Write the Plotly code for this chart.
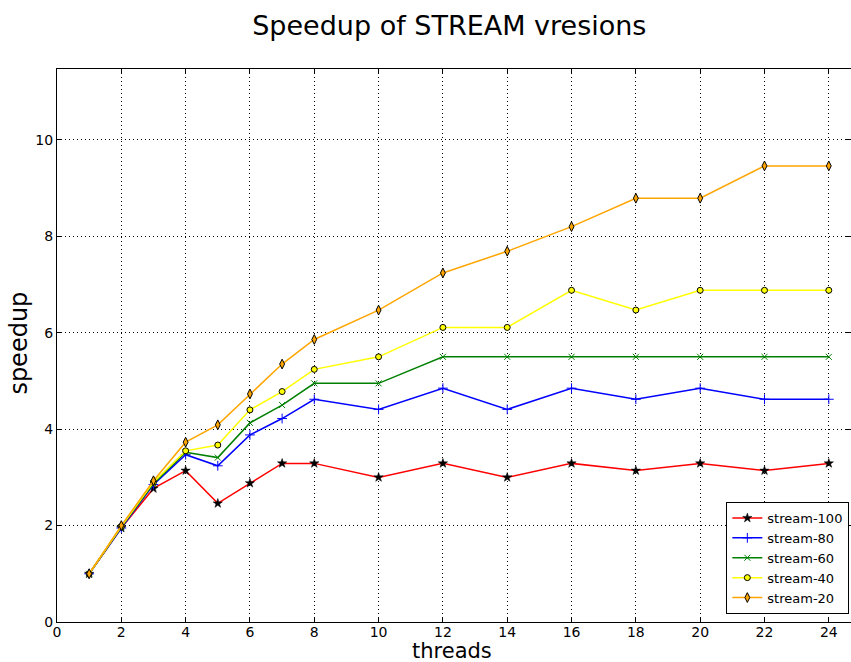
import plotly.graph_objects as go

threads = [1, 2, 3, 4, 5, 6, 7, 8, 10, 12, 14, 16, 18, 20, 22, 24]
stream_100 = [1.0, 1.95, 2.77, 3.14, 2.46, 2.88, 3.29, 3.29, 3.0, 3.29, 3.0, 3.29, 3.14, 3.29, 3.14, 3.29]
stream_80 = [1.0, 1.95, 2.85, 3.47, 3.24, 3.88, 4.22, 4.62, 4.41, 4.85, 4.41, 4.85, 4.62, 4.85, 4.62, 4.62]
stream_60 = [1.0, 1.97, 2.87, 3.52, 3.41, 4.13, 4.5, 4.95, 4.95, 5.5, 5.5, 5.5, 5.5, 5.5, 5.5, 5.5]
stream_40 = [1.0, 1.98, 2.9, 3.55, 3.67, 4.4, 4.78, 5.24, 5.5, 6.11, 6.11, 6.88, 6.47, 6.88, 6.88, 6.88]
stream_20 = [1.0, 2.0, 2.93, 3.73, 4.09, 4.73, 5.35, 5.86, 6.47, 7.24, 7.69, 8.2, 8.79, 8.79, 9.46, 9.46]
x_ticks = [0, 2, 4, 6, 8, 10, 12, 14, 16, 18, 20, 22, 24]
y_ticks = [0, 2, 4, 6, 8, 10]

fig = go.Figure()
series = [
    ("stream-100", stream_100, "red", dict(symbol="star", size=7, color="black", line=dict(color="black", width=0.5))),
    ("stream-80", stream_80, "blue", dict(symbol="cross-thin", size=7, color="blue", line=dict(color="blue", width=1))),
    ("stream-60", stream_60, "green", dict(symbol="x-thin", size=6, color="green", line=dict(color="green", width=1))),
    ("stream-40", stream_40, "yellow", dict(symbol="circle", size=6, color="yellow", line=dict(color="black", width=1))),
    ("stream-20", stream_20, "orange", dict(symbol="diamond-tall", size=7, color="orange", line=dict(color="black", width=1))),
]
for name, ys, col, mk in series:
    fig.add_trace(go.Scatter(x=threads, y=ys, name=name, mode="lines+markers",
                             line=dict(color=col, width=1.5), marker=mk))

axis_common = dict(showline=True, linecolor="black", linewidth=1.2, mirror="ticks",
                   ticks="inside", ticklen=5, tickcolor="black",
                   showgrid=True, gridcolor="black", griddash="1px,3px", gridwidth=1,
                   zeroline=False, automargin=False,
                   tickfont=dict(family="DejaVu Sans", size=14, color="black"))

fig.update_layout(
    width=851, height=662,
    margin=dict(l=57, r=0, t=69, b=40),
    paper_bgcolor="white", plot_bgcolor="white",
    title=dict(text="Speedup of STREAM vresions", x=0.528, xanchor="center", y=0.962, yanchor="middle",
               font=dict(family="DejaVu Sans", size=27, color="black")),
    xaxis=dict(range=[0, 24.69], tickvals=x_ticks, ticklabelstandoff=-3, **axis_common),
    yaxis=dict(range=[0, 11.47], tickvals=y_ticks, **axis_common),
    legend=dict(x=0.843, y=0.0145, xanchor="left", yanchor="bottom",
                bordercolor="black", borderwidth=1, bgcolor="white",
                font=dict(family="DejaVu Sans", size=13, color="black"),
                tracegroupgap=0, itemwidth=30),
    showlegend=True,
    annotations=[
        dict(text="threads", xref="paper", yref="paper", x=0.498, y=-0.0525,
             xanchor="center", yanchor="middle", showarrow=False,
             font=dict(family="DejaVu Sans", size=21, color="black")),
        dict(text="speedup", xref="paper", yref="paper", x=-0.048, y=0.505,
             xanchor="center", yanchor="middle", showarrow=False, textangle=-90,
             font=dict(family="DejaVu Sans", size=24, color="black")),
    ],
)

fig.write_html("out.html")
